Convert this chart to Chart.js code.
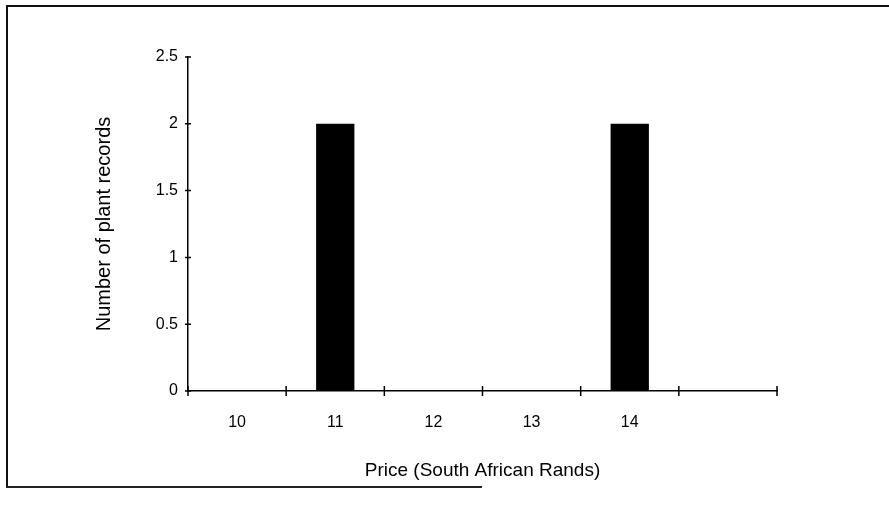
<!DOCTYPE html>
<html>
<head>
<meta charset="utf-8">
<script src="https://cdn.jsdelivr.net/npm/chart.js@4/dist/chart.umd.min.js"></script>
<style>
    html, body { margin: 0; padding: 0; background: #fff; overflow: hidden; }
    .wrap { position: relative; width: 889px; height: 515px; }
    .frame { position: absolute; left: 6px; top: 5px; width: 900px; height: 481px;
             border-left: 2px solid #111; border-top: 2px solid #111; }
    .frame_bottom { position: absolute; left: 6px; top: 486px; width: 476px; height: 0;
                    border-top: 2px solid #222; }
    canvas { position: absolute; left: 0; top: 0; }
</style>
</head>
<body>
<div class="wrap">
    <div class="frame"></div>
    <div class="frame_bottom"></div>
    <canvas id="chart" width="889" height="515"></canvas>
</div>
<script>
const PRICES = ["10", "11", "12", "13", "14", ""];
const RECORDS = [0, 2, 0, 0, 2, 0];
const Y_MIN = 0;
const Y_MAX = 2.5;
const Y_STEP = 0.5;

const FONT = "'Liberation Sans', Arial, Helvetica, sans-serif";

// tick marks that cross the axis lines instead of hanging outside
const crossTicks = {
    id: "crossTicks",
    afterDraw: function(chart) {
        const ctx = chart.ctx;
        const x = chart.scales.x;
        const y = chart.scales.y;
        ctx.save();
        ctx.strokeStyle = "#000";
        ctx.lineWidth = 1.5;
        ctx.beginPath();
        y.ticks.forEach((t, i) => {
            const py = y.getPixelForTick(i);
            ctx.moveTo(x.left - 3, py);
            ctx.lineTo(x.left + 3, py);
        });
        for (let i = 0; i <= PRICES.length; i++) {
            const px = x.getPixelForValue(i - 0.5);
            ctx.moveTo(px, y.bottom - 5);
            ctx.lineTo(px, y.bottom + 5);
        }
        ctx.stroke();
        ctx.restore();
    }
};

const config = {
    type: "bar",
    data: {
        labels: PRICES,
        datasets: [{
            data: RECORDS,
            backgroundColor: "#000",
            borderWidth: 0,
            categoryPercentage: 1,
            barPercentage: 0.39
        }]
    },
    options: {
        responsive: false,
        animation: false,
        layout: { padding: { left: 0, top: 57, right: 112, bottom: 0 } },
        plugins: {
            legend: { display: false },
            tooltip: { enabled: false }
        },
        scales: {
            x: {
                offset: true,
                afterFit: (scale) => { scale.height = 124; },
                grid: { display: true, drawOnChartArea: false, drawTicks: false, color: "transparent" },
                border: { display: true, color: "#000", width: 1.5 },
                ticks: { color: "#000", padding: 22, font: { family: FONT, size: 16 } },
                title: {
                    display: true,
                    text: "Price (South African Rands)",
                    color: "#000",
                    font: { family: FONT, size: 19 },
                    padding: { top: 0, bottom: 33 }
                }
            },
            y: {
                min: Y_MIN,
                max: Y_MAX,
                afterFit: (scale) => { scale.width = 188; },
                grid: { display: true, drawOnChartArea: false, drawTicks: false, color: "transparent" },
                border: { display: true, color: "#000", width: 1.5 },
                ticks: {
                    stepSize: Y_STEP,
                    color: "#000",
                    padding: 10,
                    font: { family: FONT, size: 16 },
                    callback: (v) => String(v)
                },
                title: {
                    display: true,
                    text: "Number of plant records",
                    color: "#000",
                    font: { family: FONT, size: 20 },
                    padding: { top: 92, bottom: 0 }
                }
            }
        }
    },
    plugins: [crossTicks]
};

const myChart = new Chart(document.getElementById("chart"), config);
</script>
</body>
</html>
